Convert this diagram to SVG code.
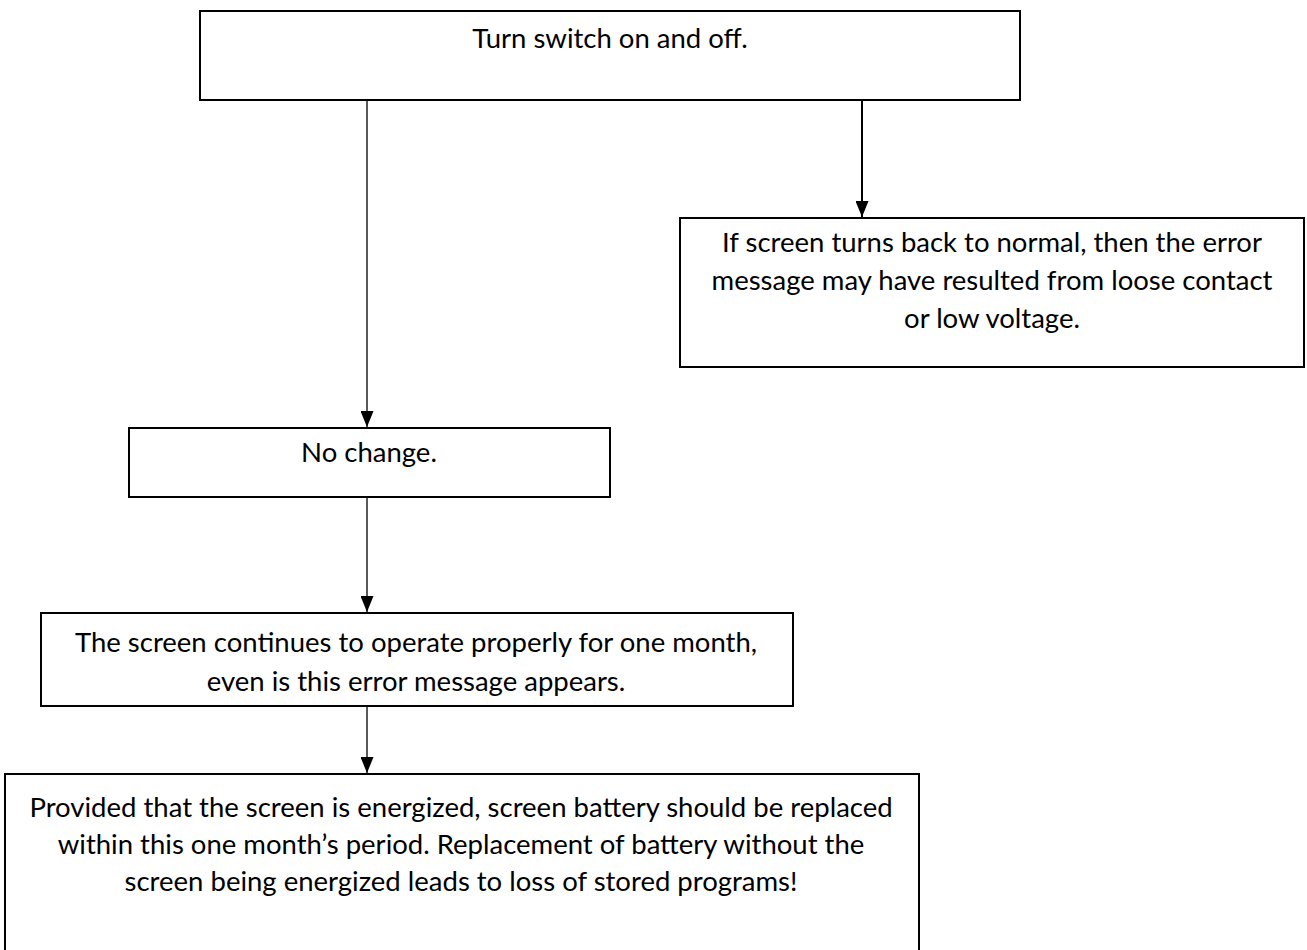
<svg xmlns="http://www.w3.org/2000/svg" width="1307" height="950" viewBox="0 0 1307 950">
<style>
.box{fill:#fff;stroke:#000;stroke-width:2}
.t{font-family:Lato,"Liberation Sans",sans-serif;font-size:27.5px;fill:#000;text-anchor:middle}
.c{stroke:#000;stroke-width:1.3;fill:none;marker-end:url(#ah)}
.thick{stroke-width:2}
</style>
<defs>
<marker id="ah" viewBox="0 0 16 13" refX="16" refY="6.5" markerWidth="16" markerHeight="13" markerUnits="userSpaceOnUse" orient="auto">
<path d="M0,0 L16,6.5 L0,13 Z" fill="#000"/>
</marker>
</defs>
<rect width="1307" height="950" fill="#fff"/>
<g id="connectors">
<line class="c" x1="367" y1="101" x2="367" y2="427"/>
<line class="c thick" x1="862" y1="101" x2="862" y2="217"/>
<line class="c" x1="367" y1="498" x2="367" y2="612"/>
<line class="c" x1="367" y1="707" x2="367" y2="773"/>
</g>
<g id="n1">
<rect class="box" x="200" y="11" width="820" height="89"/>
<text class="t" x="610" y="48">Turn switch on and off.</text>
</g>
<g id="n2">
<rect class="box" x="680" y="218" width="624" height="149"/>
<text class="t" x="992" y="252">If screen turns back to normal, then the error</text>
<text class="t" x="992" y="290">message may have resulted from loose contact</text>
<text class="t" x="992" y="328">or low voltage.</text>
</g>
<g id="n3">
<rect class="box" x="129" y="428" width="481" height="69"/>
<text class="t" x="369" y="462">No change.</text>
</g>
<g id="n4">
<rect class="box" x="41" y="613" width="752" height="93"/>
<text class="t" x="416" y="652">The screen continues to operate properly for one month,</text>
<text class="t" x="416" y="691">even is this error message appears.</text>
</g>
<g id="n5">
<rect class="box" x="5" y="774" width="914" height="190"/>
<text class="t" x="461" y="817">Provided that the screen is energized, screen battery should be replaced</text>
<text class="t" x="461" y="854">within this one month’s period. Replacement of battery without the</text>
<text class="t" x="461" y="891">screen being energized leads to loss of stored programs!</text>
</g>
</svg>
